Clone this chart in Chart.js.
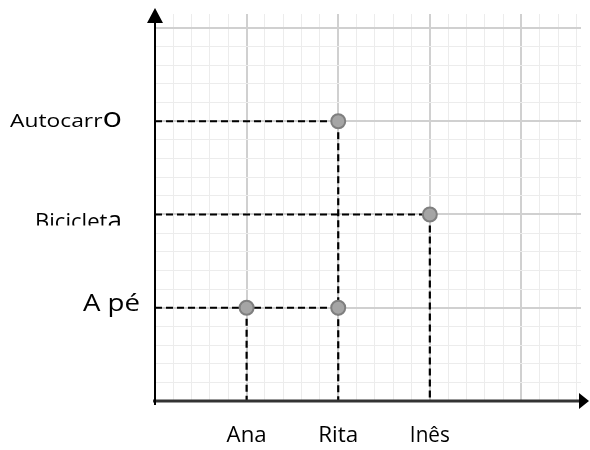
<!DOCTYPE html>
<html>
<head>
<meta charset="utf-8">
<script src="https://cdn.jsdelivr.net/npm/chart.js@4/dist/chart.umd.min.js"></script>
<style>
  html, body { margin: 0; padding: 0; background: #fff; }
  #wrap { width: 590px; height: 450px; }
</style>
</head>
<body>
<div id="wrap"><canvas id="chart" width="590" height="450"></canvas></div>
<script>
// Categorias dos eixos
const pessoas = ['Ana', 'Rita', 'Inês'];
const transportes = ['A pé', 'Bicicleta', 'Autocarro'];

// Pontos marcados: quem usa que transporte
const pontoPessoa = ['Ana', 'Rita', 'Rita', 'Inês'];
const pontoTransporte = ['A pé', 'A pé', 'Autocarro', 'Bicicleta'];

// Limites dos eixos (em unidades de categoria)
const xMax = 4.65;
const yMax = 4.15;

const pontos = pontoPessoa.map((p, i) => ({
    x: pessoas.indexOf(p) + 1,
    y: transportes.indexOf(pontoTransporte[i]) + 1
}));

// Linhas tracejadas: horizontais até ao ponto mais à direita, verticais desde o ponto mais alto
const tracejado = { borderColor: '#000', borderWidth: 2.2, borderDash: [7, 4], pointRadius: 0, fill: false, showLine: true };
const linhas = [];
transportes.forEach((t, i) => {
    const xs = pontos.filter(p => p.y === i + 1).map(p => p.x);
    if (xs.length) linhas.push({ ...tracejado, data: [{ x: 0, y: i + 1 }, { x: Math.max(...xs), y: i + 1 }] });
});
pessoas.forEach((p, i) => {
    const ys = pontos.filter(q => q.x === i + 1).map(q => q.y);
    if (ys.length) linhas.push({ ...tracejado, data: [{ x: i + 1, y: Math.max(...ys) }, { x: i + 1, y: 0 }] });
});

// Rótulos com a última letra maior, como no original
const rotulosY = {
    'Autocarro': { partes: [['Autocarr', 19], ['o', 27]], largura: 112, direita: 33, dy: 6 },
    'Bicicleta': { partes: [['Biciclet', 22], ['a', 26]], largura: 87, direita: 33, dy: 15, corte: 11 },
    'A pé': { partes: [['A pé', 23]], largura: 57, direita: 15, dy: 3 }
};
const FONTE = '"Open Sans", sans-serif';

function desenhaTexto(ctx, partes, x, y, largura) {
    let w = 0;
    partes.forEach(([t, s]) => { ctx.font = s + 'px ' + FONTE; w += ctx.measureText(t).width; });
    const sx = largura / w;
    ctx.save();
    ctx.translate(x, y);
    ctx.scale(sx, 1);
    let cx = 0;
    partes.forEach(([t, s]) => {
        ctx.font = s + 'px ' + FONTE;
        ctx.fillText(t, cx, 0);
        cx += ctx.measureText(t).width;
    });
    ctx.restore();
}

const eixos = {
    id: 'eixos',
    afterDraw(chart) {
        const ctx = chart.ctx;
        const xs = chart.scales.x, ys = chart.scales.y;
        const x0 = xs.getPixelForValue(0), y0 = ys.getPixelForValue(0);
        const xEnd = xs.getPixelForValue(xMax), yEnd = ys.getPixelForValue(yMax);
        ctx.save();
        // eixo x
        ctx.strokeStyle = '#333';
        ctx.lineWidth = 3;
        ctx.beginPath();
        ctx.moveTo(x0 - 2, y0);
        ctx.lineTo(xEnd, y0);
        ctx.stroke();
        ctx.fillStyle = '#000';
        ctx.beginPath();
        ctx.moveTo(xEnd + 8, y0);
        ctx.lineTo(xEnd - 2, y0 - 8);
        ctx.lineTo(xEnd - 2, y0 + 8);
        ctx.closePath();
        ctx.fill();
        // eixo y
        ctx.strokeStyle = '#000';
        ctx.lineWidth = 2;
        ctx.beginPath();
        ctx.moveTo(x0, y0 + 4);
        ctx.lineTo(x0, yEnd + 8);
        ctx.stroke();
        ctx.beginPath();
        ctx.moveTo(x0, yEnd - 6);
        ctx.lineTo(x0 - 8, yEnd + 9);
        ctx.lineTo(x0 + 8, yEnd + 9);
        ctx.closePath();
        ctx.fill();

        // rótulos
        ctx.fillStyle = '#000';
        ctx.textBaseline = 'alphabetic';
        ctx.textAlign = 'left';
        pessoas.forEach((p, i) => {
            const cx = xs.getPixelForValue(i + 1);
            desenhaTexto(ctx, [[p, 22]], cx - 20, y0 + 41, 40);
        });
        transportes.forEach((t, i) => {
            const r = rotulosY[t];
            const py = ys.getPixelForValue(i + 1);
            ctx.save();
            if (r.corte) {
                ctx.beginPath();
                ctx.rect(0, 0, x0, py + r.corte);
                ctx.clip();
            }
            desenhaTexto(ctx, r.partes, x0 - r.direita - r.largura, py + r.dy, r.largura);
            ctx.restore();
        });
        ctx.restore();
    }
};

const eMaior = v => Math.abs(v - Math.round(v)) < 1e-6;
const grelha = {
    drawTicks: false,
    color: c => eMaior(c.tick.value) ? '#d0d0d0' : '#ececec',
    lineWidth: c => eMaior(c.tick.value) ? 2 : 1
};

new Chart(document.getElementById('chart').getContext('2d'), {
    type: 'scatter',
    data: {
        datasets: [
            {
                data: pontos,
                pointRadius: 7,
                pointBackgroundColor: '#a5a5a5',
                pointBorderColor: '#7f7f7f',
                pointBorderWidth: 2,
                showLine: false
            },
            ...linhas
        ]
    },
    options: {
        responsive: false,
        animation: false,
        layout: { padding: { left: 155, top: 14, right: 8, bottom: 49 } },
        plugins: { legend: { display: false }, tooltip: { enabled: false } },
        scales: {
            x: {
                type: 'linear', min: 0, max: xMax,
                ticks: { display: false, stepSize: 0.2, includeBounds: false },
                grid: grelha,
                border: { display: false }
            },
            y: {
                type: 'linear', min: 0, max: yMax,
                ticks: { display: false, stepSize: 0.2, includeBounds: false },
                grid: grelha,
                border: { display: false }
            }
        }
    },
    plugins: [eixos]
});
</script>
</body>
</html>
